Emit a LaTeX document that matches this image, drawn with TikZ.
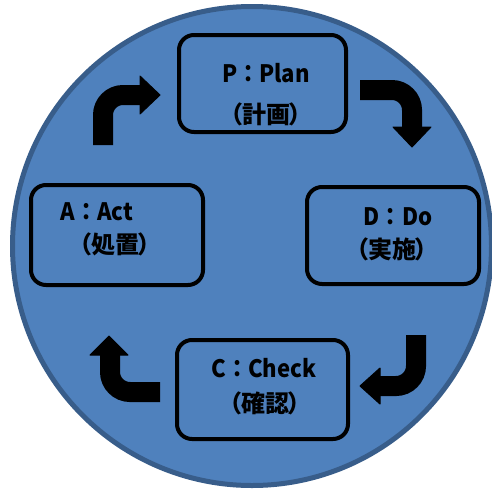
\documentclass[tikz,border=0pt]{standalone}
\usepackage{fontspec}
\newfontfamily\jp{Noto Sans CJK JP}
\newfontfamily\jpp{Noto Sans CJK JP}[RawFeature=+palt]
\definecolor{cfill}{HTML}{4F81BD}
\definecolor{cedge}{HTML}{385D8A}
\begin{document}
\begin{tikzpicture}[x=1pt,y=-1pt,
  box/.style={draw=black, line width=4pt, rounded corners=15pt, fill=cfill,
    minimum width=167pt, minimum height=97pt, inner sep=0pt},
  lineone/.style={font=\jp\bfseries\fontsize{24}{28}\selectfont, inner sep=0pt, text=black},
  linetwo/.style={font=\jpp\bfseries\fontsize{24}{28}\selectfont, inner sep=0pt, text=black},
  abody/.style={draw=black, line width=20pt, rounded corners=20pt},
  ahead/.style={fill=black, draw=black, line width=1pt, line join=round}]
\useasboundingbox (0,0) rectangle (491,493);
\fill[white] (0,0) rectangle (491,493);
\draw[cedge, fill=cfill, line width=5pt] (252,246) circle (239.5pt);
% boxes
\node[box] (P) at (262.5,83.5) {};
\node[box, minimum width=172pt, minimum height=100pt] (A) at (117,235) {};
\node[box, minimum width=172pt, minimum height=97pt] (D) at (393,235.5) {};
\node[box, minimum width=171pt, minimum height=99pt] (C) at (262.5,389.5) {};
% texts
\node[lineone] (Pt1) at (266,73) {\scalebox{0.92}[1]{P：Plan}};
\node[linetwo] (Pt2) at (266,114) {（計画）};
\node[lineone] (At1) at (97,212) {\scalebox{0.92}[1]{A：Act}};
\node[linetwo] (At2) at (115,244) {（処置）};
\node[lineone] (Dt1) at (398,217) {\scalebox{0.92}[1]{D：Do}};
\node[linetwo] (Dt2) at (392,249) {（実施）};
\node[lineone] (Ct1) at (264,368) {\scalebox{0.92}[1]{C：Check}};
\node[linetwo] (Ct2) at (265,403) {（確認）};
% arrows
\draw[abody] (103,145) -- (103,95) -- (142,95);
\filldraw[ahead] (140,76) -- (160,95) -- (140,114) -- cycle;
\draw[abody] (360,90) -- (412,90) -- (412,129);
\filldraw[ahead] (393,127) -- (431,127) -- (412,147) -- cycle;
\draw[abody] (416,335) -- (416,386) -- (378,386);
\filldraw[ahead] (380,368) -- (380,404) -- (360,386) -- cycle;
\draw[abody] (160,392) -- (110,392) -- (110,353);
\filldraw[ahead] (90,355) -- (128,355) -- (109,336) -- cycle;
\end{tikzpicture}
\end{document}
